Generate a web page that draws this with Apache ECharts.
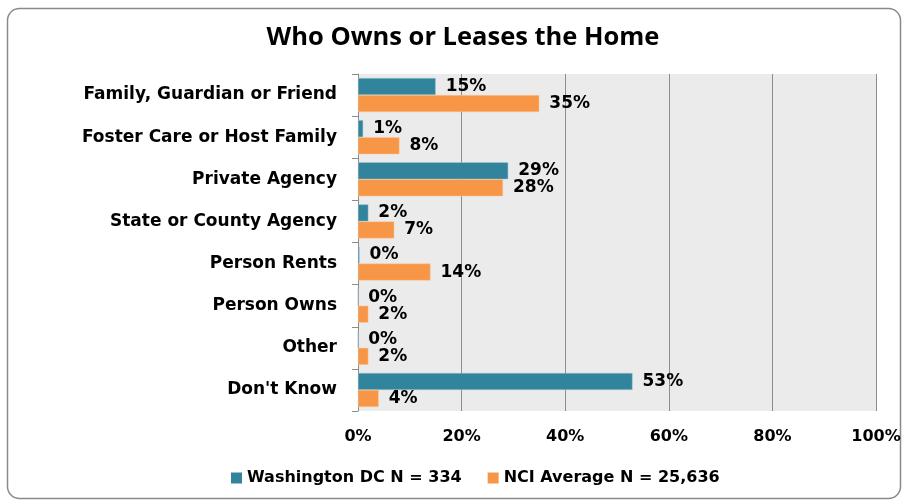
<!DOCTYPE html>
<html lang="en">
<head>
    <meta charset="UTF-8">
    <title>Who Owns or Leases the Home</title>
    <script src="https://cdn.jsdelivr.net/npm/echarts@6/dist/echarts.min.js"></script>
    <style>
        body { margin: 0; background: #fff; }
    </style>
</head>
<body>
    <div id="main" style="width: 905px;height:503px;"></div>
    <script type="text/javascript">
        var categories = ['Family, Guardian or Friend', 'Foster Care or Host Family', 'Private Agency',
            'State or County Agency', 'Person Rents', 'Person Owns', 'Other', "Don't Know"];
        var dcValues = [15, 1, 29, 2, 0.3, 0, 0, 53];
        var nciValues = [35, 8, 28, 7, 14, 2, 2, 4];
        var seriesNames = ['Washington DC N = 334', 'NCI Average N = 25,636'];
        var xTicks = [0, 20, 40, 60, 80, 100];

        var myChart = echarts.init(document.getElementById('main'));

        var labelStyle = {
            show: true,
            position: 'right',
            distance: 10,
            color: '#000',
            fontFamily: 'DejaVu Sans',
            fontWeight: 'bold',
            fontSize: 17,
            formatter: function (p) { return Math.round(p.value) + '%'; }
        };

        var option = {
            animation: false,
            title: {
                text: 'Who Owns or Leases the Home',
                left: 458,
                textAlign: 'center',
                top: 20,
                textStyle: { fontFamily: 'Open Sans', fontWeight: 'bold', fontSize: 25.5, color: '#000' }
            },
            graphic: [{
                type: 'rect',
                shape: { x: 7.5, y: 8.5, width: 893, height: 490, r: 12 },
                style: { fill: 'none', stroke: '#8a8a8a', lineWidth: 1.5 },
                z: -1
            }],
            legend: {
                bottom: 12,
                left: 226,
                itemGap: 26,
                itemWidth: 11,
                itemHeight: 11,
                icon: 'rect',
                itemStyle: { borderWidth: 0 },
                textStyle: { fontFamily: 'DejaVu Sans', fontWeight: 'bold', fontSize: 16, color: '#000' },
                data: seriesNames
            },
            grid: {
                left: 358, right: 29, top: 74, bottom: 92,
                show: true, backgroundColor: '#ebebeb', borderWidth: 0
            },
            xAxis: {
                type: 'value',
                min: 0, max: 100, interval: 20,
                axisLine: { show: false },
                axisTick: { show: false },
                splitLine: { show: true, lineStyle: { color: '#8c8c8c', width: 1 } },
                axisLabel: {
                    margin: 18,
                    fontFamily: 'DejaVu Sans', fontWeight: 'bold', fontSize: 16, color: '#000',
                    formatter: function (v) { return xTicks.indexOf(v) >= 0 ? v + '%' : ''; }
                }
            },
            yAxis: {
                type: 'category',
                inverse: true,
                data: categories,
                axisLine: { show: true, lineStyle: { color: '#8c8c8c' } },
                axisTick: { show: true, length: 6, lineStyle: { color: '#8c8c8c' } },
                axisLabel: {
                    margin: 21,
                    fontFamily: 'DejaVu Sans', fontWeight: 'bold', fontSize: 17, color: '#000'
                }
            },
            series: [{
                name: seriesNames[0],
                type: 'bar',
                data: dcValues,
                barGap: '0%',
                barCategoryGap: '19%',
                itemStyle: { color: '#31849b', borderColor: '#a9cbd6', borderWidth: 0.5 },
                label: labelStyle
            }, {
                name: seriesNames[1],
                type: 'bar',
                data: nciValues,
                barGap: '0%',
                barCategoryGap: '19%',
                itemStyle: { color: '#f79646', borderColor: '#fbcba3', borderWidth: 0.5 },
                label: labelStyle
            }]
        };

        myChart.setOption(option);
    </script>
</body>
</html>
